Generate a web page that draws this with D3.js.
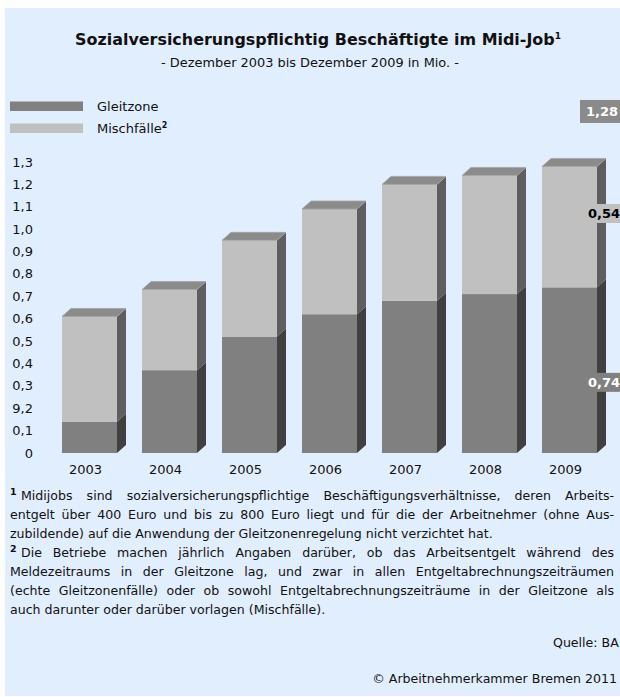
<!DOCTYPE html>
<html><head><meta charset="utf-8">
<script src="https://cdn.jsdelivr.net/npm/d3@7"></script>
<style>body{margin:0;background:#fff}svg{display:block}text{font-family:"DejaVu Sans",Verdana,sans-serif;fill:#111}</style>
</head><body><svg id="c" width="620" height="697"></svg>
<script>
// ---- data ----
const years = ["2003","2004","2005","2006","2007","2008","2009"];
const gleitzone = [0.14, 0.37, 0.52, 0.62, 0.68, 0.71, 0.74];
const mischfaelle = [0.47, 0.36, 0.43, 0.47, 0.52, 0.53, 0.54];
const seriesNames = ["Gleitzone", "Mischfälle"];
const tickValues = [0,0.1,0.2,0.3,0.4,0.5,0.6,0.7,0.8,0.9,1.0,1.1,1.2,1.3];
const tickLabels = ["0","0,1","9,2","0,3","0,4","0,5","0,6","0,7","0,8","0,9","1,0","1,1","1,2","1,3"];
const titleText = "Sozialversicherungspflichtig Beschäftigte im Midi-Job";
const subtitleText = "- Dezember 2003 bis Dezember 2009 in Mio. -";
const footnote1 = [
  "Midijobs sind sozialversicherungspflichtige Beschäftigungsverhältnisse, deren Arbeits-",
  "entgelt über 400 Euro und bis zu 800 Euro liegt und für die der Arbeitnehmer (ohne Aus-",
  "zubildende) auf die Anwendung der Gleitzonenregelung nicht verzichtet hat."
];
const footnote2 = [
  "Die Betriebe machen jährlich Angaben darüber, ob das Arbeitsentgelt während des",
  "Meldezeitraums in der Gleitzone lag, und zwar in allen Entgeltabrechnungszeiträumen",
  "(echte Gleitzonenfälle) oder ob sowohl Entgeltabrechnungszeiträume in der Gleitzone als",
  "auch darunter oder darüber vorlagen (Mischfälle)."
];
const sourceText = "Quelle: BA";
const copyrightText = "© Arbeitnehmerkammer Bremen 2011";

// ---- drawing ----
const svg = d3.select("#c");
const C = {bg:"#e1eefd", dark:"#808080", light:"#c0c0c0", top:"#8b8b8b", topEdge:"#a3a3a3",
           sideLight:"#5e5e5e", sideDark:"#404040"};
svg.append("rect").attr("x",5).attr("y",8).attr("width",615).attr("height",688).attr("fill",C.bg);

function fitSize(sel, base, target){
  const w = sel.node().getComputedTextLength();
  return base * target / w;
}

// title
const title = svg.append("text").attr("x",318).attr("y",45).attr("text-anchor","middle")
  .attr("font-weight","bold").attr("font-size",14);
title.append("tspan").text(titleText);
title.append("tspan").attr("font-size",9).attr("dy",-6).text("1");
let tw = title.node().getComputedTextLength();
title.attr("font-size", 14*487/tw);
const sub = svg.append("text").attr("x",310).attr("y",67).attr("text-anchor","middle").attr("font-size",13).text(subtitleText);
sub.attr("font-size", fitSize(sub,13,298));

// scales
const x = d3.scaleBand().domain(years).range([62,597]).paddingInner(0.3125).paddingOuter(0);
const y = d3.scaleLinear().domain([0,1.3]).range([453,162]);
const dx = 9, dy = 8;

// y axis labels
svg.append("g").selectAll("text").data(tickValues).join("text")
  .attr("x",33).attr("y",d=>y(d)+4.5).attr("text-anchor","end").attr("font-size",13)
  .text((d,i)=>tickLabels[i]);

// x labels
svg.append("g").selectAll("text").data(years).join("text")
  .attr("x",d=>x(d)+x.bandwidth()/2-4).attr("y",474).attr("text-anchor","middle").attr("font-size",13)
  .text(d=>d);

// bars
const bw = x.bandwidth();
const bars = svg.append("g");
years.forEach((yr,i)=>{
  const x0 = x(yr), g = gleitzone[i], t = g + mischfaelle[i];
  const segs = [[0,g,C.dark,C.sideDark],[g,t,C.light,C.sideLight]];
  const bg = bars.append("g");
  segs.forEach(([a,b,front,side])=>{
    const yb = y(a), yt = y(b);
    bg.append("rect").attr("x",x0).attr("y",yt).attr("width",bw).attr("height",yb-yt).attr("fill",front);
    bg.append("polygon").attr("points",[[x0+bw,yb],[x0+bw,yt],[x0+bw+dx,yt-dy],[x0+bw+dx,yb-dy]].join(" "))
      .attr("fill",side);
  });
  const yt = y(t);
  bg.append("polygon").attr("points",[[x0,yt],[x0+dx,yt-dy],[x0+bw+dx,yt-dy],[x0+bw,yt]].join(" "))
    .attr("fill",C.top).attr("stroke",C.topEdge).attr("stroke-width",0.8).attr("stroke-linejoin","round");
});

// value labels for last year
const li = years.length-1;
const fmt = v => d3.format(".2f")(v).replace(".",",");
const lastTotal = gleitzone[li]+mischfaelle[li];
const vlabels = [
  {v:lastTotal, yc:y(lastTotal)-55, fill:"#8a8a8a", color:"#fff", x:580, h:23},
  {v:mischfaelle[li], yc:y(lastTotal)+47, fill:C.light, color:"#000", x:582, h:19},
  {v:gleitzone[li], yc:y(gleitzone[li])+95, fill:C.dark, color:"#fff", x:582, h:19}
];
vlabels.forEach(l=>{
  svg.append("rect").attr("x",l.x).attr("y",l.yc-l.h/2).attr("width",620-l.x).attr("height",l.h).attr("fill",l.fill);
  svg.append("text").attr("x",l.x+6).attr("y",l.yc+4.5).attr("font-size",13).attr("font-weight","bold")
    .style("fill",l.color).text(fmt(l.v));
});

// legend
const legend = [{n:seriesNames[0],c:C.dark,y:101.5,sup:""},{n:seriesNames[1],c:C.light,y:123.5,sup:"2"}];
legend.forEach(l=>{
  svg.append("rect").attr("x",10).attr("y",l.y).attr("width",73).attr("height",9.5).attr("fill",l.c);
  const t = svg.append("text").attr("x",97).attr("y",l.y+9).attr("font-size",13);
  t.append("tspan").text(l.n);
  if(l.sup) t.append("tspan").attr("font-size",8).attr("font-weight","bold").attr("dy",-5).text(l.sup);
});

// footnotes
const probe = svg.append("text").attr("font-size",12).text(footnote1[2]);
const fs = fitSize(probe,12,483);
probe.remove();
const left = 10, right = 614;
function measure(str, weight, size){
  const t = svg.append("text").attr("font-size",size||fs).attr("font-weight",weight||"normal").text(str);
  const w = t.node().getComputedTextLength(); t.remove(); return w;
}
const space = measure("a a") - measure("aa");
function footLine(str, yb, justify, sup){
  const g = svg.append("g");
  let start = left;
  if(sup){
    g.append("text").attr("x",left).attr("y",yb-5).attr("font-size",fs*0.75).attr("font-weight","bold").text(sup);
    start = left + 11;
  }
  const items = str.split(" ");
  const widths = items.map(t=>measure(t));
  let gap = space;
  if(justify){
    gap = (right-start-d3.sum(widths))/(items.length-1);
  }
  let cx = start;
  items.forEach((it,k)=>{
    g.append("text").attr("x",cx).attr("y",yb).attr("font-size",fs).text(it);
    cx += widths[k] + gap;
  });
}
const lineYs = [500,519,538,557,576,595,614];
footnote1.forEach((s,i)=>footLine(s, lineYs[i], i<footnote1.length-1, i===0?"1":null));
footnote2.forEach((s,i)=>footLine(s, lineYs[3+i], i<footnote2.length-1, i===0?"2":null));

svg.append("text").attr("x",553).attr("y",647).attr("font-size",fs).text(sourceText);
svg.append("text").attr("x",617).attr("y",683).attr("text-anchor","end").attr("font-size",fs).text(copyrightText);
</script></body></html>
